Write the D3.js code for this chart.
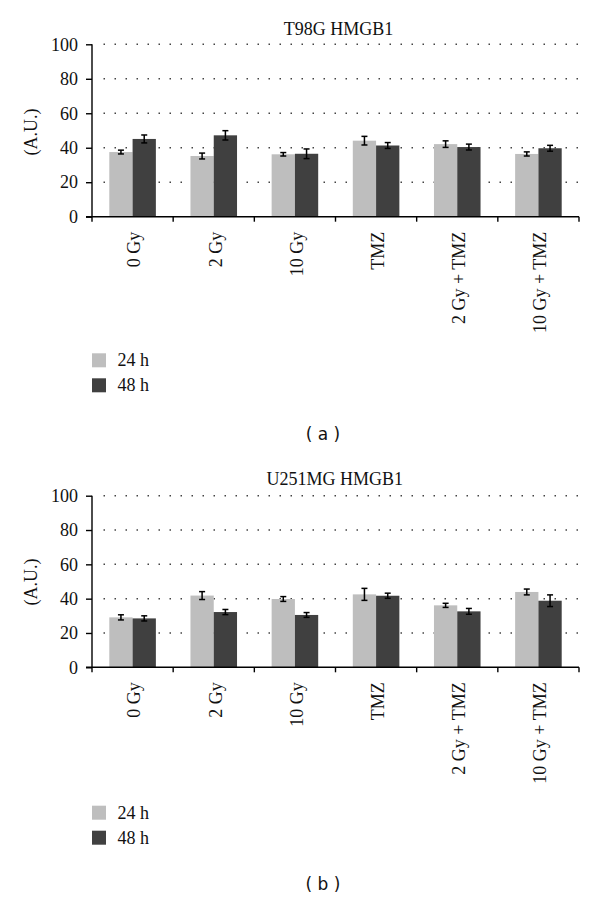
<!DOCTYPE html>
<html>
<head>
<meta charset="utf-8">
<script src="https://cdn.jsdelivr.net/npm/d3@7/dist/d3.min.js"></script>
<style>
  html, body { margin: 0; padding: 0; background: #fff; }
  svg { display: block; }
  .serif { font-family: "Liberation Serif", "DejaVu Serif", serif; }
</style>
</head>
<body>
<svg id="chart" width="600" height="899"></svg>
<script>
// ---- Data ----
const categories = ["0 Gy", "2 Gy", "10 Gy", "TMZ", "2 Gy + TMZ", "10 Gy + TMZ"];
const seriesNames = ["24 h", "48 h"];
const yTicks = [0, 20, 40, 60, 80, 100];

const titleA = "T98G HMGB1";
const a24 = [37.5, 35.2, 36.2, 44.1, 42.1, 36.4];
const a24err = [1.1, 1.7, 1.0, 2.5, 1.9, 1.2];
const a48 = [45.1, 47.2, 36.5, 41.3, 40.4, 39.7];
const a48err = [2.3, 2.7, 2.8, 1.7, 1.7, 1.7];

const titleB = "U251MG HMGB1";
const b24 = [29.1, 41.8, 39.8, 42.5, 36.1, 43.9];
const b24err = [1.5, 2.3, 1.4, 3.5, 1.2, 1.7];
const b48 = [28.5, 32.2, 30.5, 41.7, 32.6, 38.8];
const b48err = [1.5, 1.5, 1.4, 1.5, 1.7, 3.4];

const colors = ["#bebebe", "#404040"];

const svg = d3.select("#chart");

function drawPanel(cfg) {
  const g = svg.append("g");
  const y = d3.scaleLinear().domain([0, 100]).range([cfg.y0, cfg.y100]);
  const x = d3.scaleBand().domain(categories).range([92, 579]).paddingInner(0).paddingOuter(0);
  const inner = d3.scaleBand().domain(seriesNames).range([17.3, x.bandwidth() - 17.3]).padding(0);

  // Title
  g.append("text").attr("class", "serif")
    .attr("x", cfg.titleX).attr("y", cfg.titleY)
    .attr("text-anchor", "middle").attr("font-size", 18).attr("fill", "#111")
    .text(cfg.title);

  // Gridlines (dotted)
  g.append("g").selectAll("line").data(yTicks.filter(t => t > 0)).join("line")
    .attr("x1", 103.5).attr("x2", 580)
    .attr("y1", d => y(d)).attr("y2", d => y(d))
    .attr("stroke", "#444").attr("stroke-width", 1.5)
    .attr("stroke-dasharray", "1.5,9.5");

  // Bars
  const data = categories.map((c, i) => ({
    c,
    vals: [
      { s: seriesNames[0], v: cfg.s24[i], e: cfg.e24[i], k: 0 },
      { s: seriesNames[1], v: cfg.s48[i], e: cfg.e48[i], k: 1 }
    ]
  }));
  const groups = g.append("g").selectAll("g").data(data).join("g")
    .attr("transform", d => `translate(${x(d.c)},0)`);
  groups.selectAll("rect").data(d => d.vals).join("rect")
    .attr("x", d => inner(d.s)).attr("width", inner.bandwidth())
    .attr("y", d => y(d.v)).attr("height", d => y(0) - y(d.v))
    .attr("fill", d => colors[d.k]);

  // Error bars
  const eb = groups.selectAll("g.eb").data(d => d.vals).join("g").attr("class", "eb")
    .attr("transform", d => `translate(${inner(d.s) + inner.bandwidth() / 2},0)`);
  eb.append("line").attr("x1", 0).attr("x2", 0)
    .attr("y1", d => y(d.v - d.e)).attr("y2", d => y(d.v + d.e))
    .attr("stroke", "#000").attr("stroke-width", 1.5);
  eb.append("line").attr("x1", -3).attr("x2", 3)
    .attr("y1", d => y(d.v - d.e)).attr("y2", d => y(d.v - d.e))
    .attr("stroke", "#000").attr("stroke-width", 1.5);
  eb.append("line").attr("x1", -3).attr("x2", 3)
    .attr("y1", d => y(d.v + d.e)).attr("y2", d => y(d.v + d.e))
    .attr("stroke", "#000").attr("stroke-width", 1.5);

  // Y axis
  const yAxis = d3.axisLeft(y).tickValues(yTicks).tickSize(6).tickPadding(8).tickFormat(d3.format("d"));
  const ya = g.append("g").attr("transform", "translate(92,0)").call(yAxis);
  ya.select(".domain").attr("stroke", "#000").attr("stroke-width", 1.4).attr("d", `M0,${y(0)}V${y(100)}`);
  ya.selectAll(".tick line").attr("stroke", "#000").attr("stroke-width", 1.4);
  ya.selectAll(".tick text").attr("class", "serif").attr("font-size", 18).attr("fill", "#111");

  // X axis
  const xa = g.append("g").attr("transform", `translate(0,${y(0)})`);
  xa.append("line").attr("x1", 86).attr("x2", 579).attr("y1", 0).attr("y2", 0)
    .attr("stroke", "#000").attr("stroke-width", 1.4);
  const bounds = categories.map(c => x(c)).concat([x.range()[1]]);
  xa.selectAll("line.t").data(bounds).join("line").attr("class", "t")
    .attr("x1", d => d).attr("x2", d => d).attr("y1", 0).attr("y2", 5)
    .attr("stroke", "#000").attr("stroke-width", 1.4);
  xa.selectAll("text").data(categories).join("text").attr("class", "serif")
    .attr("transform", d => `translate(${x(d) + x.bandwidth() / 2 + 1.5},15) rotate(-90)`)
    .attr("text-anchor", "end").attr("dy", "0.35em")
    .attr("font-size", 18).attr("fill", "#111")
    .text(d => d);

  // Y label
  g.append("text").attr("class", "serif")
    .attr("transform", `translate(31,${cfg.ylabY}) rotate(-90)`)
    .attr("text-anchor", "middle").attr("dy", "0.35em")
    .attr("font-size", 18).attr("fill", "#111").text("(A.U.)");

  // Legend
  const lg = g.append("g").selectAll("g").data(seriesNames).join("g")
    .attr("transform", (d, i) => `translate(92,${cfg.legY + i * 25})`);
  lg.append("rect").attr("width", 14).attr("height", 14).attr("fill", (d, i) => colors[i]);
  lg.append("text").attr("class", "serif").attr("x", 25.5).attr("y", 12.8)
    .attr("font-size", 18).attr("fill", "#111").text(d => d);

  // Panel label
  g.append("text").attr("x", 323).attr("y", cfg.panelY)
    .attr("text-anchor", "middle")
    .attr("font-family", "DejaVu Sans, sans-serif").attr("font-size", 17).attr("fill", "#111")
    .text(cfg.panel);
}

drawPanel({ title: titleA, titleX: 338.5, titleY: 35, y0: 216.7, y100: 44.3,
  s24: a24, e24: a24err, s48: a48, e48: a48err, ylabY: 132, legY: 353.3, panelY: 440, panel: "( a )" });
drawPanel({ title: titleB, titleX: 334.7, titleY: 485, y0: 667.3, y100: 495.7,
  s24: b24, e24: b24err, s48: b48, e48: b48err, ylabY: 582, legY: 805.7, panelY: 890, panel: "( b )" });
</script>
</body>
</html>
